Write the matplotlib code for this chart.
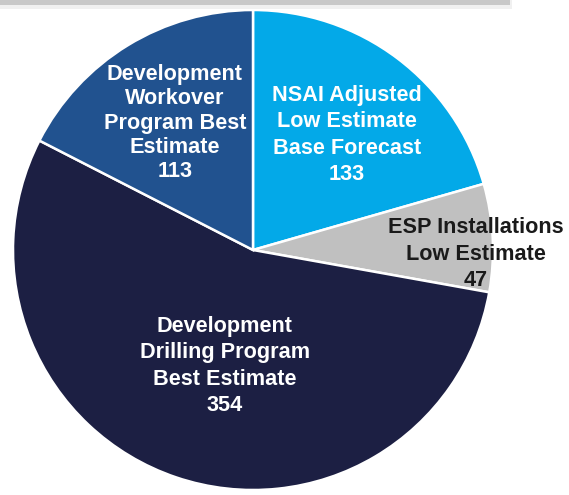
import matplotlib
matplotlib.use("Agg")
import matplotlib.pyplot as plt
from matplotlib.patches import Rectangle

labels = ["NSAI Adjusted\nLow Estimate\nBase Forecast",
          "ESP Installations\nLow Estimate",
          "Development\nDrilling Program\nBest Estimate",
          "Development\nWorkover\nProgram Best\nEstimate"]
values = [133, 47, 354, 113]
colors = ["#03A9E8", "#C0C0C0", "#1C1F43", "#21528F"]
text_colors = ["white", "#1a1a1a", "white", "white"]
label_pos = [(0.392, 0.479), (0.929, -0.017), (-0.117, -0.483), (-0.325, 0.529)]
line_sp = [1.33, 1.33, 1.33, 1.2]

W, H = 569, 495
fig = plt.figure(figsize=(W / 100, H / 100), dpi=100)
cx, cy, r = 253, 250, 240
ax = fig.add_axes([(cx - r) / W, (H - cy - r) / H, 2 * r / W, 2 * r / H])
ax.pie(values, colors=colors, startangle=90, counterclock=False, radius=1,
       wedgeprops=dict(edgecolor="white", linewidth=1.8))
ax.set_xlim(-1, 1)
ax.set_ylim(-1, 1)
ax.set_aspect("equal")
ax.axis("off")

for lab, v, (x, y), tc, ls in zip(labels, values, label_pos, text_colors, line_sp):
    ax.text(x, y, f"{lab}\n{v}", ha="center", va="center", color=tc,
            fontsize=15.6, fontweight="bold", family=["Liberation Sans", "DejaVu Sans"],
            linespacing=ls)

# top banner remnant
fig.patches.append(Rectangle((0, 1 - 9 / H), 512 / W, 9 / H, transform=fig.transFigure,
                             facecolor="#F0F0F0", edgecolor="none", zorder=0))
fig.patches.append(Rectangle((0, 1 - 5 / H), 510 / W, 5 / H, transform=fig.transFigure,
                             facecolor="#C8C8C8", edgecolor="none", zorder=1))

fig.savefig("out.png", dpi=100)
